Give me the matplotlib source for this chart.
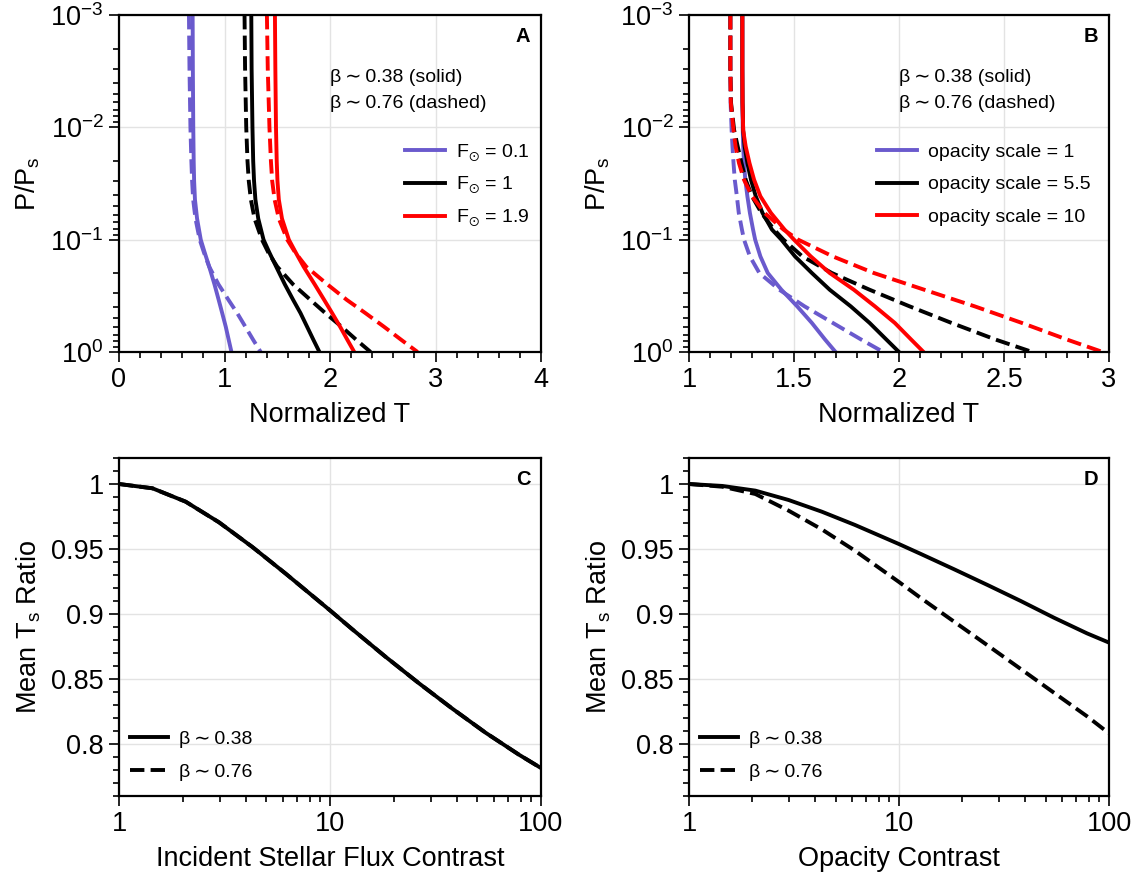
import numpy as np
import matplotlib
matplotlib.use("Agg")
import matplotlib.pyplot as plt
from matplotlib.ticker import FixedLocator, MultipleLocator, NullFormatter, LogLocator

plt.rcParams['font.family'] = ['Liberation Sans', 'DejaVu Sans']
plt.rcParams['mathtext.fontset'] = 'custom'
plt.rcParams['mathtext.rm'] = 'Liberation Sans'
plt.rcParams['mathtext.it'] = 'Liberation Sans:italic'
plt.rcParams['mathtext.bf'] = 'Liberation Sans:bold'
plt.rcParams['mathtext.fallback'] = 'stixsans'

PURPLE = '#6a5acd'
RED = '#ff0000'
BLACK = '#000000'

# ---------------- Panel A data (P/Ps vs normalized T) ----------------
pA = [0.001, 0.003, 0.01, 0.02, 0.03, 0.044, 0.065, 0.1, 0.13, 0.174, 0.25, 0.344, 0.45, 0.596, 0.78, 1.0]
A_f01_solid = [0.698, 0.700, 0.704, 0.708, 0.712, 0.720, 0.740, 0.775, 0.812, 0.855, 0.905, 0.945, 0.978, 1.012, 1.040, 1.066]
A_f01_dash  = [0.663, 0.668, 0.677, 0.686, 0.693, 0.703, 0.725, 0.765, 0.805, 0.855, 0.943, 1.038, 1.120, 1.198, 1.272, 1.343]
A_f1_solid  = [1.254, 1.257, 1.265, 1.272, 1.280, 1.293, 1.320, 1.370, 1.425, 1.490, 1.572, 1.651, 1.720, 1.783, 1.843, 1.900]
A_f1_dash   = [1.190, 1.195, 1.206, 1.218, 1.230, 1.250, 1.285, 1.355, 1.415, 1.500, 1.650, 1.815, 1.955, 2.110, 2.250, 2.385]
A_f19_solid = [1.478, 1.482, 1.488, 1.495, 1.502, 1.515, 1.545, 1.610, 1.675, 1.750, 1.855, 1.945, 2.020, 2.096, 2.165, 2.230]
A_f19_dash  = [1.402, 1.410, 1.426, 1.440, 1.452, 1.475, 1.515, 1.595, 1.670, 1.775, 1.975, 2.160, 2.335, 2.512, 2.676, 2.830]
A_labels = [r'F$_{\odot}$ = 0.1', r'F$_{\odot}$ = 1', r'F$_{\odot}$ = 1.9']

# ---------------- Panel B data ----------------
pB = [0.001, 0.003, 0.006, 0.0106, 0.0148, 0.0208, 0.0293, 0.0411, 0.0578, 0.0813, 0.1, 0.141, 0.198, 0.279, 0.392, 0.551, 0.775, 1.0]
B_o1_solid  = [1.254, 1.254, 1.254, 1.256, 1.258, 1.262, 1.268, 1.278, 1.290, 1.305, 1.315, 1.340, 1.375, 1.440, 1.515, 1.585, 1.648, 1.698]
B_o1_dash   = [1.197, 1.197, 1.198, 1.203, 1.207, 1.212, 1.218, 1.228, 1.237, 1.252, 1.262, 1.290, 1.335, 1.430, 1.550, 1.685, 1.820, 1.925]
B_o55_solid = [1.254, 1.254, 1.255, 1.258, 1.265, 1.278, 1.295, 1.318, 1.350, 1.395, 1.440, 1.505, 1.585, 1.670, 1.770, 1.860, 1.940, 2.000]
B_o55_dash  = [1.197, 1.197, 1.200, 1.215, 1.232, 1.250, 1.270, 1.300, 1.345, 1.405, 1.450, 1.540, 1.680, 1.860, 2.050, 2.250, 2.460, 2.635]
B_o10_solid = [1.254, 1.254, 1.255, 1.258, 1.270, 1.288, 1.310, 1.340, 1.390, 1.455, 1.500, 1.580, 1.670, 1.785, 1.885, 1.980, 2.058, 2.117]
B_o10_dash  = [1.197, 1.197, 1.199, 1.212, 1.222, 1.238, 1.262, 1.300, 1.360, 1.450, 1.520, 1.685, 1.880, 2.120, 2.360, 2.585, 2.800, 2.970]
B_labels = ['opacity scale = 1', 'opacity scale = 5.5', 'opacity scale = 10']

# ---------------- Panel C / D data (mean Ts ratio) ----------------
xC = [1, 1.44, 2.07, 2.98, 4.29, 6.17, 10, 12.7, 18.3, 26.4, 38, 54.6, 78.6, 100]
C_solid = [1.000, 0.9967, 0.9864, 0.9705, 0.9515, 0.9310, 0.9028, 0.8885, 0.8672, 0.8467, 0.8272, 0.8087, 0.7918, 0.7815]
C_dash  = [1.000, 0.9967, 0.9864, 0.9705, 0.9515, 0.9310, 0.9028, 0.8885, 0.8672, 0.8467, 0.8272, 0.8087, 0.7918, 0.7815]
xD = [1, 1.44, 2.07, 2.98, 4.29, 6.17, 10, 12.7, 18.3, 26.4, 38, 54.6, 78.6, 100]
D_solid = [1.000, 0.9985, 0.9949, 0.9877, 0.9787, 0.9685, 0.9538, 0.9462, 0.9344, 0.9223, 0.9100, 0.8972, 0.8851, 0.8780]
D_dash  = [1.000, 0.9979, 0.9923, 0.9795, 0.9651, 0.9487, 0.9246, 0.9123, 0.8941, 0.8759, 0.8577, 0.8395, 0.8213, 0.8082]
beta_labels = ['β\u2009∼\u20090.38', 'β\u2009∼\u20090.76']

TICK_FS = 19.5
LABEL_FS = 19.5
LEG_FS = 14
LET_FS = 14.5
LW = 2.8

fig = plt.figure(figsize=(11.43, 8.77), dpi=100)
W, H = 1143, 877
def add_ax(l, r, t, b):
    return fig.add_axes([l / W, 1 - b / H, (r - l) / W, (b - t) / H])

axA = add_ax(119, 541, 15, 352)
axB = add_ax(689, 1109, 15, 352)
axC = add_ax(119, 541, 458, 796)
axD = add_ax(689, 1109, 458, 796)

def style(ax):
    for s in ax.spines.values():
        s.set_linewidth(1.6)
    ax.tick_params(which='both', direction='out', top=False, right=False, labelsize=TICK_FS, width=1.2)
    ax.tick_params(which='major', length=7, pad=4)
    ax.tick_params(which='minor', length=4)
    ax.grid(True, which='major', color='#e3e3e3', linewidth=1.0)
    ax.set_axisbelow(True)

def log_axis(ax):
    ax.set_yscale('log')
    ax.set_ylim(1.0, 1e-3)
    ax.yaxis.set_major_locator(FixedLocator([1e-3, 1e-2, 1e-1, 1]))
    ax.set_yticklabels([r'$10^{-3}$', r'$10^{-2}$', r'$10^{-1}$', r'$10^{0}$'])
    ax.yaxis.set_minor_locator(LogLocator(base=10, subs=np.arange(2, 10)))
    ax.yaxis.set_minor_formatter(NullFormatter())

def leg(ax, handles, anchor, loc, hl=2.06, ls=0.5):
    ax.legend(handles=handles, loc=loc, bbox_to_anchor=anchor, frameon=False, fontsize=LEG_FS,
              handlelength=hl, handletextpad=0.57, labelspacing=ls, borderpad=0, borderaxespad=0)

colors = [PURPLE, BLACK, RED]

def profile_axis(ax, p, solids, dashes, labels, letter):
    style(ax)
    handles = []
    for c, s, d, lab in zip(colors, solids, dashes, labels):
        h, = ax.plot(s, p, color=c, lw=LW, label=lab)
        ax.plot(d, p, color=c, lw=LW, ls='--')
        handles.append(h)
    log_axis(ax)
    ax.set_xlabel('Normalized T', fontsize=LABEL_FS, labelpad=6)
    ax.set_ylabel(r'P/P$_\mathrm{s}$', fontsize=LABEL_FS, labelpad=6)
    ax.text(0.5, 0.816, 'β\u2009∼\u20090.38 (solid)', transform=ax.transAxes, fontsize=LEG_FS, va='center')
    ax.text(0.5, 0.736, 'β\u2009∼\u20090.76 (dashed)', transform=ax.transAxes, fontsize=LEG_FS, va='center')
    ax.text(0.975, 0.935, letter, transform=ax.transAxes, fontsize=LET_FS, fontweight='bold', ha='right', va='center')
    return handles

hA = profile_axis(axA, pA, [A_f01_solid, A_f1_solid, A_f19_solid], [A_f01_dash, A_f1_dash, A_f19_dash], A_labels, 'A')
axA.set_xlim(0, 4)
axA.xaxis.set_major_locator(MultipleLocator(1))
axA.xaxis.set_minor_locator(MultipleLocator(0.2))
leg(axA, hA, (0.678, 0.623), 'upper left', ls=0.63)

hB = profile_axis(axB, pB, [B_o1_solid, B_o55_solid, B_o10_solid], [B_o1_dash, B_o55_dash, B_o10_dash], B_labels, 'B')
axB.set_xlim(1, 3)
axB.set_xticks([1, 1.5, 2, 2.5, 3])
axB.set_xticklabels(['1', '1.5', '2', '2.5', '3'])
axB.xaxis.set_minor_locator(MultipleLocator(0.1))
leg(axB, hB, (0.4476, 0.620), 'upper left', ls=0.78)

def ratio_axis(ax, xs, sol, das, letter, xlabel):
    style(ax)
    hd, = ax.plot(xs, das, color=BLACK, lw=LW, ls='--', label=beta_labels[1])
    hs, = ax.plot(xs, sol, color=BLACK, lw=LW, label=beta_labels[0])
    ax.set_xscale('log')
    ax.set_xlim(1, 100)
    ax.set_ylim(0.76, 1.02)
    ax.set_xticks([1, 10, 100])
    ax.set_xticklabels(['1', '10', '100'])
    ax.xaxis.set_minor_locator(LogLocator(base=10, subs=np.arange(2, 10)))
    ax.xaxis.set_minor_formatter(NullFormatter())
    ax.set_yticks([0.8, 0.85, 0.9, 0.95, 1.0])
    ax.set_yticklabels(['0.8', '0.85', '0.9', '0.95', '1'])
    ax.yaxis.set_minor_locator(MultipleLocator(0.01))
    ax.set_xlabel(xlabel, fontsize=LABEL_FS, labelpad=6)
    ax.set_ylabel(r'Mean T$_\mathrm{s}$ Ratio', fontsize=LABEL_FS, labelpad=6)
    ax.text(0.975, 0.935, letter, transform=ax.transAxes, fontsize=LET_FS, fontweight='bold', ha='right', va='center')
    leg(ax, [hs, hd], (0.026, 0.044), 'lower left', hl=1.95, ls=0.81)

ratio_axis(axC, xC, C_solid, C_dash, 'C', 'Incident Stellar Flux Contrast')
ratio_axis(axD, xD, D_solid, D_dash, 'D', 'Opacity Contrast')

fig.savefig('out.png', dpi=100)
